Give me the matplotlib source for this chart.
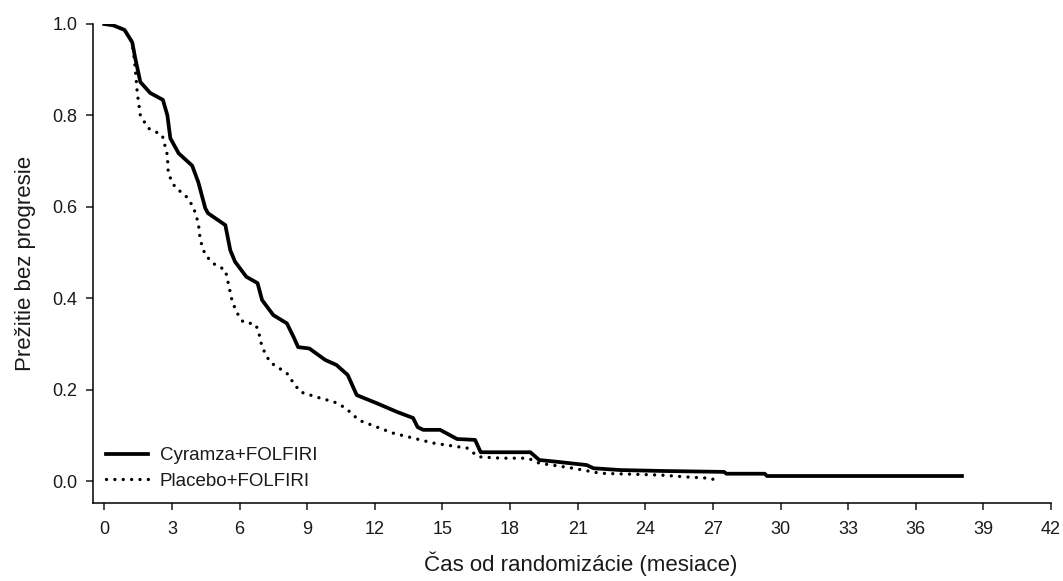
import matplotlib
matplotlib.use("Agg")
import matplotlib.pyplot as plt

plt.rcParams['font.family'] = ['Liberation Sans', 'DejaVu Sans']

# Kaplan-Meier curves (months, survival probability)
cyr_t = [0.0, 0.4, 0.9, 1.24, 1.37, 1.6, 2.04, 2.6, 2.8, 2.93, 3.3, 3.9, 4.17,
         4.48, 4.6, 5.37, 5.59, 5.8, 6.3, 6.8, 7.0, 7.5, 8.1, 8.4, 8.6, 9.1,
         9.8, 10.3, 10.8, 11.2, 12.1, 13.0, 13.7, 13.9, 14.15, 14.9, 15.65,
         16.45, 16.7, 18.9, 19.3, 20.1, 21.4, 21.7, 22.9, 24.8, 27.5, 27.6,
         29.3, 29.4, 38.05]
cyr_s = [1.0, 0.997, 0.987, 0.96, 0.926, 0.873, 0.849, 0.834, 0.80, 0.75,
         0.717, 0.69, 0.654, 0.597, 0.586, 0.56, 0.505, 0.48, 0.447, 0.433,
         0.396, 0.363, 0.345, 0.315, 0.293, 0.29, 0.265, 0.254, 0.232, 0.188,
         0.17, 0.151, 0.138, 0.118, 0.112, 0.112, 0.092, 0.09, 0.063, 0.063,
         0.046, 0.042, 0.035, 0.028, 0.024, 0.022, 0.02, 0.016, 0.016, 0.011,
         0.011]

pla_t = [0.0, 0.4, 0.9, 1.24, 1.37, 1.46, 1.6, 1.95, 2.57, 2.8, 2.84, 3.15,
         3.6, 3.95, 4.17, 4.26, 4.48, 4.92, 5.37, 5.5, 5.68, 5.9, 6.16, 6.7,
         6.83, 7.0, 7.35, 8.1, 8.4, 8.7, 9.4, 10.2, 10.7, 11.3, 12.1, 12.8,
         13.7, 14.6, 16.1, 16.6, 17.6, 18.8, 19.3, 20.8, 22.0, 24.7, 25.8,
         26.9, 27.0]
pla_s = [1.0, 0.997, 0.987, 0.96, 0.906, 0.851, 0.80, 0.772, 0.757, 0.713,
         0.672, 0.642, 0.625, 0.6, 0.565, 0.527, 0.494, 0.473, 0.462, 0.433,
         0.392, 0.367, 0.348, 0.343, 0.33, 0.293, 0.26, 0.236, 0.214, 0.195,
         0.184, 0.173, 0.16, 0.133, 0.118, 0.105, 0.094, 0.083, 0.072, 0.053,
         0.05, 0.05, 0.039, 0.028, 0.017, 0.013, 0.009, 0.006, 0.004]

labels = ["Cyramza+FOLFIRI", "Placebo+FOLFIRI"]
x_ticks = list(range(0, 43, 3))
y_ticks = [0.0, 0.2, 0.4, 0.6, 0.8, 1.0]
y_ticklabels = ["0.0", "0.2", "0.4", "0.6", "0.8", "1.0"]

fig = plt.figure(figsize=(10.63, 5.81), dpi=100)
ax = fig.add_axes([0.0875, 0.1343, 0.9012, 0.8244])

ax.plot(pla_t, pla_s, color='black', lw=2.4,
        linestyle=(0, (0.01, 2.5)), dash_capstyle='round', label=labels[1])
ax.plot(cyr_t, cyr_s, color='black', lw=2.7, solid_joinstyle='round',
        label=labels[0])

ax.set_xlim(-0.5, 42)
ax.set_ylim(-0.048, 1.0)
ax.set_xticks(x_ticks)
ax.set_yticks(y_ticks)
ax.set_yticklabels(y_ticklabels)
for s in ['top', 'right']:
    ax.spines[s].set_visible(False)
for s in ['left', 'bottom']:
    ax.spines[s].set_linewidth(1.1)
ax.tick_params(axis='both', direction='out', length=5, width=1.1,
               labelsize=13, colors='#1a1a1a')
ax.tick_params(axis='x', pad=8)
ax.tick_params(axis='y', pad=6)

ax.set_xlabel("Čas od randomizácie (mesiace)", fontsize=16, labelpad=10,
              color='#1a1a1a')
ax.xaxis.label.set_x(0.509)
ax.set_ylabel("Prežitie bez progresie", fontsize=16, labelpad=12,
              color='#1a1a1a')

h, l = ax.get_legend_handles_labels()
leg = ax.legend([h[1], h[0]], [l[1], l[0]], loc='lower left',
                bbox_to_anchor=(0.0, 0.0), frameon=False, fontsize=13.5,
                handlelength=2.25, handletextpad=0.6, labelspacing=0.45,
                borderaxespad=0.3)
for t in leg.get_texts():
    t.set_color('#1a1a1a')

fig.savefig("out.png", dpi=100, facecolor='white')
